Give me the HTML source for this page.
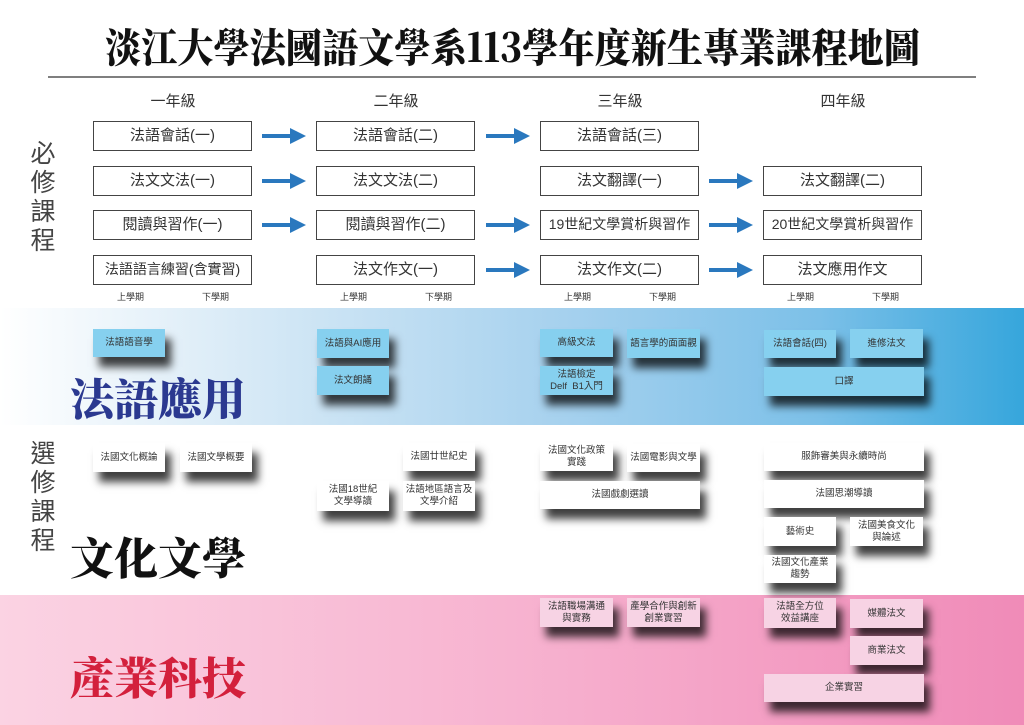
<!DOCTYPE html>
<html><head><meta charset="utf-8">
<style>
*{margin:0;padding:0;box-sizing:border-box}
body{width:1024px;height:725px;position:relative;overflow:hidden;background:#fff;font-family:"Liberation Sans","Noto Sans CJK TC",sans-serif;color:#222}
.a{position:absolute}
.band1{left:0;top:308px;width:1024px;height:117px;background:linear-gradient(90deg,#ffffff 0%,#d6e9f6 25%,#a6d1ee 55%,#7cc0e8 80%,#36a6dc 100%)}
.band2{left:0;top:595px;width:1024px;height:130px;background:linear-gradient(90deg,#fbd3e3 0%,#f7b3d0 50%,#f08bb8 100%)}
.yr{top:90px;width:160px;text-align:center;font-size:15px;color:#333}
.req{height:30px;width:159px;border:1.3px solid #444;background:#fff;text-align:center;line-height:27px;font-size:15px;color:#333}
.sem{top:290px;font-size:9px;color:#333}
.e{display:flex;align-items:center;justify-content:center;text-align:center;font-size:9.5px;line-height:12px;color:#333;box-shadow:6px 10px 8px rgba(0,0,0,.75)}
.b{background:#86d0ef}
.w{background:#fff}
.p{background:#f7d3e4}
.vt{left:28px;width:30px;font-size:25px;line-height:29px;color:#444;text-align:center}
.big{font-family:"Noto Serif CJK SC","Liberation Serif",serif;font-weight:900;font-size:44px;line-height:60px;white-space:nowrap}
</style></head><body>
<svg class="a" style="left:0;top:0" width="1024" height="90">
<text x="105" y="62" textLength="815" lengthAdjust="spacingAndGlyphs" font-family="Noto Serif CJK TC,Noto Serif CJK SC,serif" font-weight="900" font-size="40" fill="#111">淡江大學法國語文學系113學年度新生專業課程地圖</text>
<line x1="48" y1="77" x2="976" y2="77" stroke="#555" stroke-width="1.5"/>
</svg>
<div class="a band1"></div>
<div class="a band2"></div>

<div class="a yr" style="left:93px">一年級</div>
<div class="a yr" style="left:316px">二年級</div>
<div class="a yr" style="left:540px">三年級</div>
<div class="a yr" style="left:763px">四年級</div>

<div class="a vt" style="top:140px">必<br>修<br>課<br>程</div>
<div class="a vt" style="top:440px">選<br>修<br>課<br>程</div>

<div class="a req" style="left:93px;top:121px">法語會話(一)</div>
<div class="a req" style="left:93px;top:166px">法文文法(一)</div>
<div class="a req" style="left:93px;top:210px">閱讀與習作(一)</div>
<div class="a req" style="left:93px;top:255px;font-size:14px">法語語言練習(含實習)</div>
<div class="a req" style="left:316px;top:121px">法語會話(二)</div>
<div class="a req" style="left:316px;top:166px">法文文法(二)</div>
<div class="a req" style="left:316px;top:210px">閱讀與習作(二)</div>
<div class="a req" style="left:316px;top:255px">法文作文(一)</div>
<div class="a req" style="left:540px;top:121px">法語會話(三)</div>
<div class="a req" style="left:540px;top:166px">法文翻譯(一)</div>
<div class="a req" style="left:540px;top:210px;font-size:14px">19世紀文學賞析與習作</div>
<div class="a req" style="left:540px;top:255px">法文作文(二)</div>
<div class="a req" style="left:763px;top:166px">法文翻譯(二)</div>
<div class="a req" style="left:763px;top:210px;font-size:14px">20世紀文學賞析與習作</div>
<div class="a req" style="left:763px;top:255px">法文應用作文</div>

<svg class="a" style="left:0;top:0" width="1024" height="300">
<defs><g id="ar"><rect x="0" y="-2" width="30" height="4" fill="#2a78be"/><polygon points="28,-8 44,0 28,8" fill="#2a78be"/></g></defs>
<use href="#ar" x="262" y="136"/><use href="#ar" x="262" y="181"/><use href="#ar" x="262" y="225"/>
<use href="#ar" x="486" y="136"/><use href="#ar" x="486" y="225"/><use href="#ar" x="486" y="270"/>
<use href="#ar" x="709" y="181"/><use href="#ar" x="709" y="225"/><use href="#ar" x="709" y="270"/>
</svg>

<div class="a sem" style="left:117px">上學期</div><div class="a sem" style="left:202px">下學期</div>
<div class="a sem" style="left:340px">上學期</div><div class="a sem" style="left:425px">下學期</div>
<div class="a sem" style="left:564px">上學期</div><div class="a sem" style="left:649px">下學期</div>
<div class="a sem" style="left:787px">上學期</div><div class="a sem" style="left:872px">下學期</div>

<div class="a big" style="left:70px;top:366px;color:#2b3990">法語應用</div>
<div class="a big" style="left:70px;top:525px;color:#111">文化文學</div>
<div class="a big" style="left:70px;top:645px;color:#d3203c">產業科技</div>

<div class="a e b" style="left:93px;top:329px;width:72px;height:28px">法語語音學</div>
<div class="a e b" style="left:317px;top:329px;width:72px;height:29px">法語與AI應用</div>
<div class="a e b" style="left:317px;top:366px;width:72px;height:29px">法文朗誦</div>
<div class="a e b" style="left:540px;top:329px;width:73px;height:28px">高級文法</div>
<div class="a e b" style="left:627px;top:329px;width:73px;height:29px">語言學的面面觀</div>
<div class="a e b" style="left:540px;top:366px;width:73px;height:29px">法語檢定<br>Delf&nbsp; B1入門</div>
<div class="a e b" style="left:764px;top:330px;width:72px;height:28px">法語會話(四)</div>
<div class="a e b" style="left:850px;top:329px;width:73px;height:29px">進修法文</div>
<div class="a e b" style="left:764px;top:367px;width:160px;height:29px">口譯</div>

<div class="a e w" style="left:93px;top:443px;width:72px;height:29px">法國文化概論</div>
<div class="a e w" style="left:180px;top:443px;width:72px;height:29px">法國文學概要</div>
<div class="a e w" style="left:403px;top:443px;width:72px;height:28px">法國廿世紀史</div>
<div class="a e w" style="left:317px;top:481px;width:72px;height:30px">法國18世紀<br>文學導讀</div>
<div class="a e w" style="left:403px;top:481px;width:72px;height:30px">法語地區語言及<br>文學介紹</div>
<div class="a e w" style="left:540px;top:443px;width:73px;height:28px">法國文化政策<br>實踐</div>
<div class="a e w" style="left:627px;top:444px;width:73px;height:28px">法國電影與文學</div>
<div class="a e w" style="left:540px;top:481px;width:160px;height:28px">法國戲劇選讀</div>
<div class="a e w" style="left:764px;top:443px;width:160px;height:28px">服飾審美與永續時尚</div>
<div class="a e w" style="left:764px;top:480px;width:160px;height:28px">法國思潮導讀</div>
<div class="a e w" style="left:764px;top:517px;width:72px;height:29px">藝術史</div>
<div class="a e w" style="left:850px;top:517px;width:73px;height:29px">法國美食文化<br>與論述</div>
<div class="a e w" style="left:764px;top:555px;width:72px;height:28px">法國文化產業<br>趨勢</div>

<div class="a e p" style="left:540px;top:598px;width:73px;height:29px">法語職場溝通<br>與實務</div>
<div class="a e p" style="left:627px;top:598px;width:73px;height:29px">產學合作與創新<br>創業實習</div>
<div class="a e p" style="left:764px;top:598px;width:72px;height:30px">法語全方位<br>效益講座</div>
<div class="a e p" style="left:850px;top:599px;width:73px;height:29px">媒體法文</div>
<div class="a e p" style="left:850px;top:636px;width:73px;height:29px">商業法文</div>
<div class="a e p" style="left:764px;top:674px;width:160px;height:28px">企業實習</div>
</body></html>
